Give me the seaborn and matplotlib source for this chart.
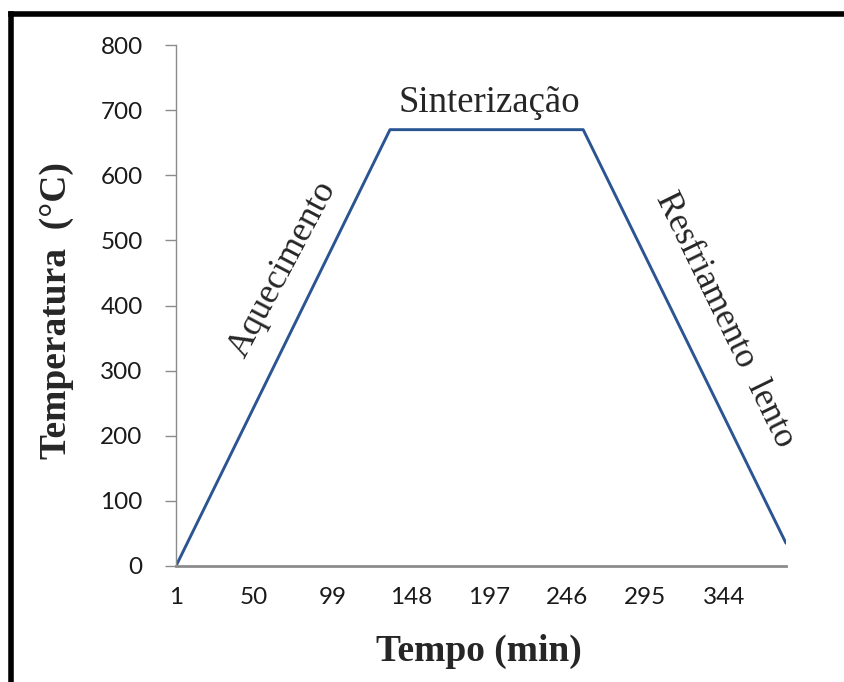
import numpy as np
import pandas as pd
import matplotlib
matplotlib.use("Agg")
import matplotlib.pyplot as plt
from matplotlib.lines import Line2D
import seaborn as sns

# breakpoints of the sintering cycle
tempo = [1, 135, 256, 383]
temperatura = [0, 670, 670, 35]
xticks = [1, 50, 99, 148, 197, 246, 295, 344]
yticks = [0, 100, 200, 300, 400, 500, 600, 700, 800]

df = pd.DataFrame({"Tempo": tempo, "Temperatura": temperatura})

sns.set_style("white")
plt.rcParams["font.family"] = ["Lato", "DejaVu Sans"]

fig = plt.figure(figsize=(8.44, 6.82), dpi=100)
ax = fig.add_axes([176 / 844, 1 - 566 / 682, (786 - 176) / 844, (566 - 45) / 682])

sns.lineplot(data=df, x="Tempo", y="Temperatura", ax=ax, color="#2B5592", linewidth=2.1)

ax.set_xlim(1, 383)
ax.set_ylim(0, 800)
ax.set_xticks(xticks)
ax.set_yticks(yticks)
ax.tick_params(axis="y", direction="out", length=8, width=1, color="#8c8c8c", labelsize=17.5,
               labelcolor="#1a1a1a", pad=16, left=True)
ax.tick_params(axis="x", length=0, labelsize=17.5, labelcolor="#1a1a1a", pad=15)

for s in ["top", "right"]:
    ax.spines[s].set_visible(False)
ax.spines["left"].set_color("#8c8c8c")
ax.spines["left"].set_linewidth(1.0)
ax.spines["bottom"].set_color("#8c8c8c")
ax.spines["bottom"].set_linewidth(2.0)

serif = ["Liberation Serif", "DejaVu Serif"]
ax.set_xlabel("Tempo (min)", fontsize=27, fontweight="bold", family=serif)
ax.set_ylabel("Temperatura  (\u00b0C)", fontsize=27, fontweight="bold", family=serif)
ax.xaxis.set_label_coords(0.497, -0.131)
ax.yaxis.set_label_coords(-0.167, 0.491)

ax.text(197, 712, "Sinterização", fontsize=26.5, family=serif, ha="center", va="center")
ax.text(68, 455, "Aquecimento", fontsize=26, family=serif, ha="center", va="center",
        rotation=62, rotation_mode="anchor")
ax.text(345, 378, "Resfriamento  lento", fontsize=25.5, family=serif, ha="center", va="center",
        rotation=-64, rotation_mode="anchor")

# black frame (only left and top edges visible in the crop)
fig.add_artist(Line2D([11 / 844, 11 / 844], [0, 1 - 14 / 682], transform=fig.transFigure,
                      color="black", linewidth=4, solid_capstyle="projecting"))
fig.add_artist(Line2D([11 / 844, 1], [1 - 14 / 682, 1 - 14 / 682], transform=fig.transFigure,
                      color="black", linewidth=4, solid_capstyle="projecting"))

fig.savefig("out.png", dpi=100)
